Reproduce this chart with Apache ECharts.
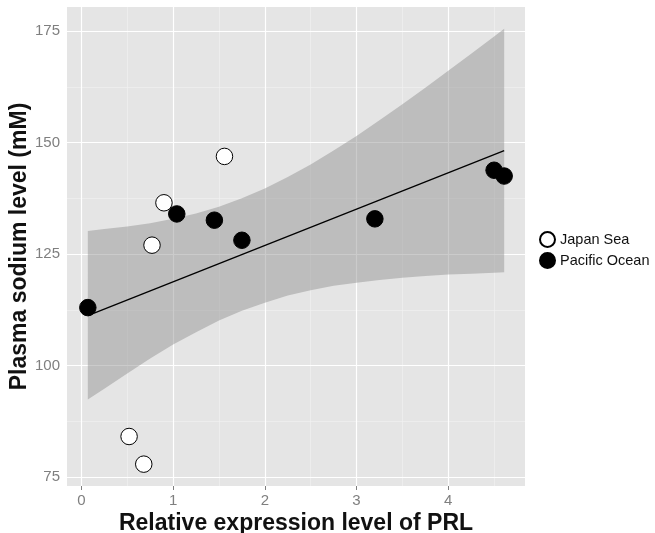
<!DOCTYPE html>
<html>
<head>
<meta charset="utf-8">
<title>Plasma sodium vs PRL</title>
<script src="https://cdn.jsdelivr.net/npm/echarts@6.0.0/dist/echarts.min.js"></script>
<style>
  html, body { margin: 0; padding: 0; background: #fff; }
  #chart { width: 655px; height: 533px; }
</style>
</head>
<body>
<div id="chart"></div>
<script>
// Japan Sea points [PRL, Na]
var japanSea = [[1.56, 146.9], [0.90, 136.5], [0.77, 127.0], [0.52, 84.1], [0.68, 77.9]]
// Pacific Ocean points [PRL, Na]
var pacificOcean = [[0.07, 113.0], [1.04, 134.0], [1.45, 132.6], [1.75, 128.1], [3.20, 132.9], [4.50, 143.8], [4.61, 142.5]]
// fitted line ends
var fitX = [0.07, 4.61]
var fitY = [111.2, 148.2]
// confidence band
var bandX = [0.07, 0.25, 0.5, 0.75, 1, 1.25, 1.5, 1.75, 2, 2.25, 2.5, 2.75, 3, 3.25, 3.5, 3.75, 4, 4.25, 4.5, 4.61]
var bandUpper = [130.2, 130.6, 131.2, 131.9, 132.9, 134.1, 135.6, 137.5, 139.7, 142.3, 145.1, 148.2, 151.5, 155.0, 158.6, 162.3, 166.1, 169.9, 173.8, 175.5]
var bandLower = [92.4, 94.8, 98.2, 101.6, 104.7, 107.5, 110.1, 112.3, 114.1, 115.7, 116.9, 117.9, 118.6, 119.2, 119.7, 120.1, 120.4, 120.6, 120.8, 120.9]
// ticks
var xTicks = [0, 1, 2, 3, 4]
var xMinor = [0.5, 1.5, 2.5, 3.5, 4.5]
var yTicks = [75, 100, 125, 150, 175]
var yMinor = [87.5, 112.5, 137.5, 162.5]

var FONT = 'Liberation Sans, Arial, sans-serif'

var fitData = fitX.map(function (x, i) { return [x, fitY[i]] })

// grid lines (ggplot style) drawn as mark lines
var gridLines = []
xMinor.forEach(function (v) { gridLines.push({ xAxis: v, lineStyle: { color: '#f2f2f2', width: 0.6 } }) })
yMinor.forEach(function (v) { gridLines.push({ yAxis: v, lineStyle: { color: '#f2f2f2', width: 0.6 } }) })
xTicks.forEach(function (v) { gridLines.push({ xAxis: v, lineStyle: { color: '#ffffff', width: 1.2 } }) })
yTicks.forEach(function (v) { gridLines.push({ yAxis: v, lineStyle: { color: '#ffffff', width: 1.2 } }) })

function renderBand (params, api) {
  var pts = []
  for (var i = 0; i < bandX.length; i++) {
    pts.push(api.coord([bandX[i], bandUpper[i]]))
  }
  for (var j = bandX.length - 1; j >= 0; j--) {
    pts.push(api.coord([bandX[j], bandLower[j]]))
  }
  return {
    type: 'polygon',
    shape: { points: pts },
    style: { fill: 'rgba(140,140,140,0.45)' }
  }
}

var myChart = echarts.init(document.getElementById('chart'))
myChart.setOption({
  animation: false,
  textStyle: { fontFamily: FONT },
  grid: {
    left: 67,
    top: 7,
    right: 130,
    bottom: 47,
    show: true,
    backgroundColor: '#e5e5e5',
    borderWidth: 0,
    outerBoundsMode: 'none'
  },
  legend: {
    data: ['Japan Sea', 'Pacific Ocean'],
    orient: 'vertical',
    left: 539,
    top: 231,
    padding: 0,
    itemWidth: 15,
    itemHeight: 15,
    itemGap: 4,
    icon: 'circle',
    textStyle: { fontSize: 14.5, color: '#111', fontFamily: FONT }
  },
  xAxis: {
    type: 'value',
    min: -0.157,
    max: 4.837,
    name: 'Relative expression level of PRL',
    nameLocation: 'middle',
    nameGap: 26,
    nameMoveOverlap: false,
    nameTextStyle: { fontSize: 23, fontWeight: 'bold', color: '#111', fontFamily: FONT },
    axisLine: { show: false },
    axisTick: { show: true, customValues: xTicks, length: 4, lineStyle: { color: '#7f7f7f' } },
    axisLabel: { customValues: xTicks, margin: 7, fontSize: 15, color: '#7f7f7f', fontFamily: FONT },
    splitLine: { show: false }
  },
  yAxis: {
    type: 'value',
    min: 73.0,
    max: 180.4,
    name: 'Plasma sodium level (mM)',
    nameLocation: 'middle',
    nameGap: 36,
    nameMoveOverlap: false,
    nameRotate: 90,
    nameTextStyle: { fontSize: 23, fontWeight: 'bold', color: '#111', fontFamily: FONT },
    axisLine: { show: false },
    axisTick: { show: true, customValues: yTicks, length: 4, lineStyle: { color: '#7f7f7f' } },
    axisLabel: { customValues: yTicks, margin: 7, fontSize: 15, color: '#7f7f7f', fontFamily: FONT },
    splitLine: { show: false }
  },
  series: [
    {
      name: 'band',
      type: 'custom',
      data: [0],
      silent: true,
      z: 2,
      renderItem: renderBand
    },
    {
      name: 'fit',
      type: 'line',
      data: fitData,
      symbol: 'none',
      silent: true,
      z: 3,
      lineStyle: { color: '#000', width: 1.3 },
      markLine: {
        silent: true,
        symbol: 'none',
        z: 1,
        animation: false,
        label: { show: false },
        lineStyle: { type: 'solid' },
        data: gridLines
      }
    },
    {
      name: 'Japan Sea',
      type: 'scatter',
      data: japanSea,
      symbolSize: 16.5,
      z: 4,
      itemStyle: { color: '#ffffff', borderColor: '#000', borderWidth: 1, opacity: 1 }
    },
    {
      name: 'Pacific Ocean',
      type: 'scatter',
      data: pacificOcean,
      symbolSize: 16.5,
      z: 4,
      itemStyle: { color: '#000000', borderColor: '#000', borderWidth: 1, opacity: 1 }
    }
  ]
})
</script>
</body>
</html>
